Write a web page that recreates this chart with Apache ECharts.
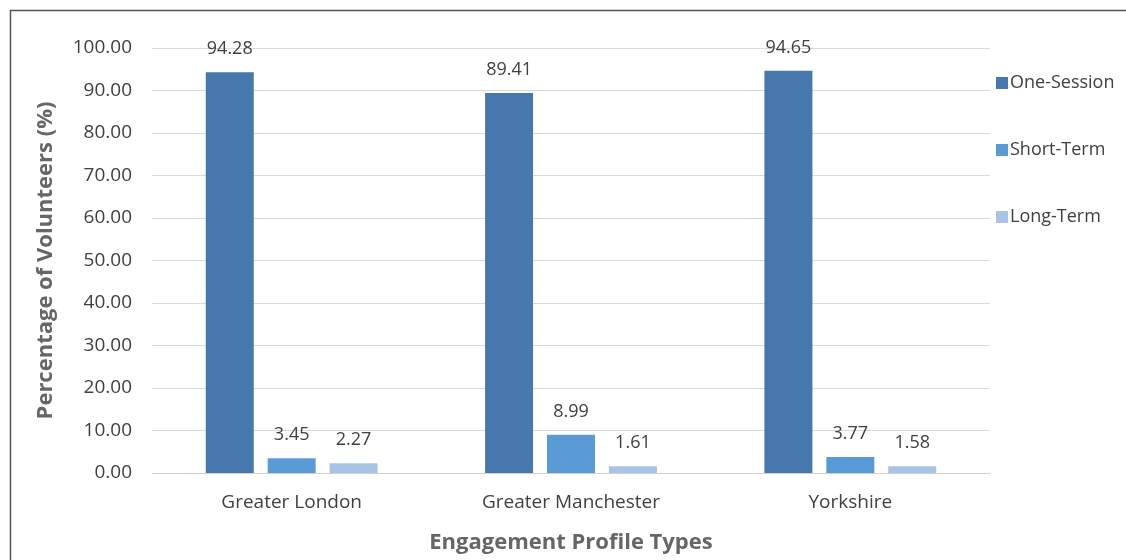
<!DOCTYPE html>
<html><head><meta charset="utf-8">
<script src="https://cdn.jsdelivr.net/npm/echarts@6/dist/echarts.min.js"></script>
<style>html,body{margin:0;padding:0;background:#fff}#c{width:1126px;height:560px}</style>
</head><body><div id="c"></div>
<script>
const categories = ['Greater London', 'Greater Manchester', 'Yorkshire'];
const oneSession = [94.28, 89.41, 94.65];
const shortTerm = [3.45, 8.99, 3.77];
const longTerm = [2.27, 1.61, 1.58];
const yTicks = [0, 10, 20, 30, 40, 50, 60, 70, 80, 90, 100];

const font = '"Open Sans", "Liberation Sans", sans-serif';
const chart = echarts.init(document.getElementById('c'));
const lbl = {show: true, position: 'top', distance: 14, color: '#404040', fontSize: 18, fontFamily: font, formatter: p => p.value.toFixed(2)};
chart.setOption({
  animation: false,
  graphic: [{type: 'rect', shape: {x: 10.5, y: 10.5, width: 1200, height: 600}, style: {fill: 'none', stroke: '#555', lineWidth: 1.5}}],
  grid: {left: 152, right: 136, top: 48, bottom: 87, outerBoundsMode: 'none', containLabel: false},
  legend: {
    orient: 'vertical', left: 996, top: 74, itemGap: 49, itemWidth: 12, itemHeight: 12,
    icon: 'rect', padding: 0,
    textStyle: {fontSize: 18, color: '#404040', fontFamily: font, padding: [0, 0, 0, -3]},
    data: ['One-Session', 'Short-Term', 'Long-Term']
  },
  xAxis: {
    type: 'category', data: categories,
    axisLine: {lineStyle: {color: '#d0d0d0'}}, axisTick: {show: false},
    axisLabel: {fontSize: 19, color: '#404040', fontFamily: font, margin: 20},
    name: 'Engagement Profile Types', nameLocation: 'middle', nameGap: 59,
    nameTextStyle: {fontSize: 22, fontWeight: 'bold', color: '#666', fontFamily: font}
  },
  yAxis: {
    type: 'value', min: 0, max: 100, interval: 10,
    axisLabel: {fontSize: 19, color: '#404040', fontFamily: font, margin: 20, formatter: v => v.toFixed(2)},
    splitLine: {lineStyle: {color: '#d9d9d9'}},
    axisLine: {show: false}, axisTick: {show: false},
    name: 'Percentage of Volunteers (%)', nameLocation: 'middle', nameGap: 95, nameRotate: 90,
    nameTextStyle: {fontSize: 22, fontWeight: 'bold', color: '#666', fontFamily: font}
  },
  series: [
    {name: 'One-Session', type: 'bar', data: oneSession, barWidth: 48, barGap: '29%', itemStyle: {color: '#4677AD'}, label: lbl},
    {name: 'Short-Term', type: 'bar', data: shortTerm, barWidth: 48, barGap: '29%', itemStyle: {color: '#5B9BD5'}, label: lbl},
    {name: 'Long-Term', type: 'bar', data: longTerm, barWidth: 48, barGap: '29%', itemStyle: {color: '#A9C3E6'}, label: lbl}
  ]
});
</script></body></html>
